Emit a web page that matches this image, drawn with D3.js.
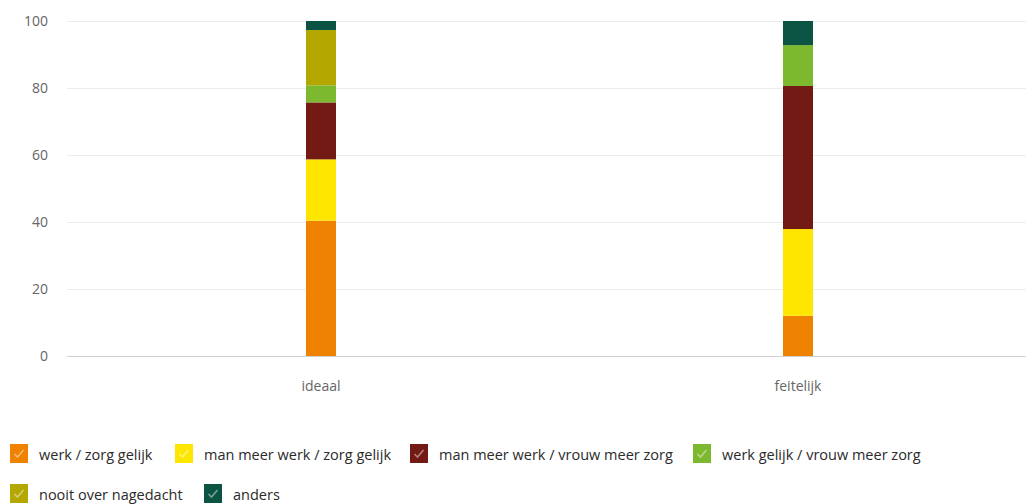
<!DOCTYPE html>
<html><head><meta charset="utf-8">
<script src="https://cdn.jsdelivr.net/npm/d3@7"></script>
<style>body{margin:0;background:#fff}svg{display:block}</style>
</head><body>
<svg id="c" width="1026" height="504"></svg>
<script>
const categories = ["ideaal", "feitelijk"];
const seriesNames = ["werk / zorg gelijk", "man meer werk / zorg gelijk", "man meer werk / vrouw meer zorg", "werk gelijk / vrouw meer zorg", "nooit over nagedacht", "anders"];
const werkZorgGelijk = [40.4, 12.0];
const manWerkZorgGelijk = [18.3, 25.9];
const manWerkVrouwZorg = [17.0, 42.7];
const werkGelijkVrouwZorg = [5.1, 12.2];
const nooitNagedacht = [16.5, 0];
const anders = [2.7, 7.2];
const seriesValues = [werkZorgGelijk, manWerkZorgGelijk, manWerkVrouwZorg, werkGelijkVrouwZorg, nooitNagedacht, anders];
const colors = ["#EF8200", "#FFE600", "#741A14", "#7DB92F", "#B3A700", "#0B5443"];
const yTicks = [0, 20, 40, 60, 80, 100];

const svg = d3.select("#c");
const y = d3.scaleLinear().domain([0, 100]).range([356, 21]);
const x = d3.scaleBand().domain(categories).range([82.5, 1036.5]);
const barW = 30;

// grid
svg.append("g").selectAll("line").data(yTicks).join("line")
  .attr("x1", 67).attr("x2", 1026)
  .attr("y1", d => Math.round(y(d)) + 0.5).attr("y2", d => Math.round(y(d)) + 0.5)
  .attr("stroke", d => d === 0 ? "#d0d0d0" : "#ececec").attr("stroke-width", 1);

svg.append("g").selectAll("text").data(yTicks).join("text")
  .attr("x", 48).attr("y", d => y(d) + 5).attr("text-anchor", "end")
  .attr("font-family", "Open Sans, sans-serif").attr("font-size", 14).attr("fill", "#666")
  .text(d => d);

// stacked bars
const rows = categories.map((c, i) => {
  const o = {cat: c};
  seriesNames.forEach((s, j) => o[s] = seriesValues[j][i]);
  return o;
});
const stack = d3.stack().keys(seriesNames)(rows);
svg.append("g").selectAll("g").data(stack).join("g")
  .attr("fill", (d, i) => colors[i])
  .selectAll("rect").data(d => d).join("rect")
  .attr("x", d => x(d.data.cat) + x.bandwidth() / 2 - barW / 2)
  .attr("width", barW)
  .attr("y", d => y(d[1]))
  .attr("height", d => y(d[0]) - y(d[1]));

// category labels
svg.append("g").selectAll("text").data(categories).join("text")
  .attr("x", d => x(d) + x.bandwidth() / 2).attr("y", 391).attr("text-anchor", "middle")
  .attr("font-family", "Open Sans, sans-serif").attr("font-size", 14).attr("fill", "#666")
  .text(d => d);

// legend
const legendPos = [[10, 444], [175, 444], [410, 444], [693, 444], [10, 484], [204, 484]];
const lg = svg.append("g").selectAll("g").data(seriesNames).join("g")
  .attr("transform", (d, i) => `translate(${legendPos[i][0]},${legendPos[i][1]})`);
lg.append("rect").attr("width", 18).attr("height", 19).attr("fill", (d, i) => colors[i]);
lg.append("path").attr("d", "M4.5,10 L7.5,13 L13.5,6").attr("fill", "none")
  .attr("stroke", "rgba(255,255,255,0.45)").attr("stroke-width", 1.6);
lg.append("text").attr("x", 29).attr("y", 15.5)
  .attr("font-family", "Open Sans, sans-serif").attr("font-size", 14.5).attr("fill", "#2a2a2a")
  .text(d => d);
</script>
</body></html>
